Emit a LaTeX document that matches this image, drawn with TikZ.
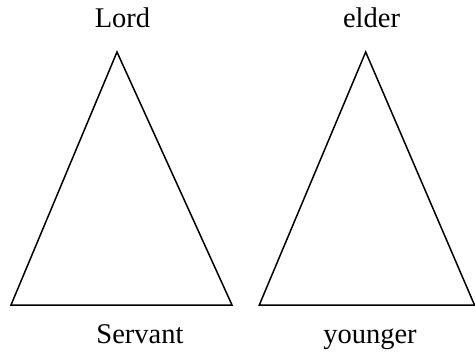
\documentclass[tikz,border=0pt]{standalone}
\usepackage{fontspec}
\setmainfont{Liberation Serif}
\begin{document}
\begin{tikzpicture}[x=1pt,y=-1pt,
  lbl/.style={font=\fontsize{28.5}{32}\selectfont, inner sep=0pt, anchor=base},
  tri/.style={draw=black, line width=1.5pt, line join=miter}]
\useasboundingbox (0,0) rectangle (475,354);
\coordinate (la) at (117,52);
\coordinate (ll) at (11,305);
\coordinate (lr) at (232,305);
\coordinate (ra) at (365.7,52);
\coordinate (rl) at (259.3,305);
\coordinate (rr) at (474.5,305);
\draw[tri] (la) -- (ll) -- (lr) -- cycle;
\draw[tri] (ra) -- (rl) -- (rr) -- cycle;
\node[lbl] (lord) at (122.5,27.5) {Lord};
\node[lbl] (elder) at (371.5,27.5) {elder};
\node[lbl] (servant) at (140,343.5) {Servant};
\node[lbl] (younger) at (370,343.5) {younger};
\end{tikzpicture}
\end{document}
